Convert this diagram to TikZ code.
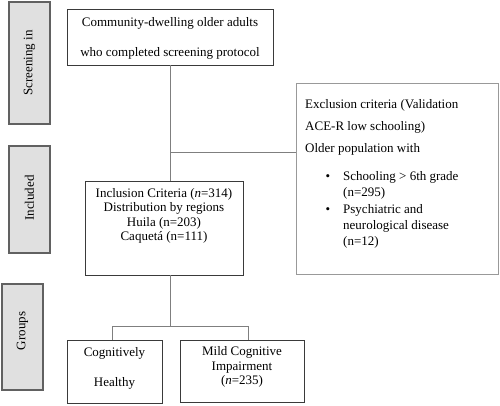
\documentclass[tikz,border=0pt]{standalone}
\usepackage{fontspec}
\setmainfont{Liberation Serif}
\usetikzlibrary{positioning}
\definecolor{linegray}{HTML}{7F7F7F}
\definecolor{boxgray}{HTML}{3A3A3A}
\definecolor{sidefill}{HTML}{E0E0E0}
\tikzset{
  txt/.style={inner sep=0pt, font=\fontsize{13}{15}\selectfont},
  flowbox/.style={draw=boxgray, line width=1pt, inner sep=0pt},
  sidebox/.style={draw=boxgray!80, fill=sidefill, line width=1.2pt, inner sep=0pt,
    minimum width=41pt},
  sidelabel/.style={txt, rotate=90},
  conn/.style={draw=linegray, line width=1pt}
}
\begin{document}
\begin{tikzpicture}[x=1pt,y=-1pt]
\useasboundingbox (0,0) rectangle (500,405);
% stage labels on the left
\node[sidebox, minimum height=122pt] (screen) at (29.5,63) {};
\node[sidelabel] (screenlbl) at (29.5,63) {Screening in};
\node[sidebox, minimum height=107pt] (included) at (29.5,199.5) {};
\node[sidelabel] (includedlbl) at (29.5,198) {Included};
\node[sidebox, minimum height=106pt] (groups) at (22.5,337) {};
\node[sidelabel] (groupslbl) at (22.5,331) {Groups};
% boxes
\node[flowbox, minimum width=206pt, minimum height=56pt] (community) at (170,37) {};
\node[txt, align=center, font=\fontsize{13}{30}\selectfont] (communitytxt) at (170,38)
  {Community-dwelling older adults\\who completed screening protocol};
\node[flowbox, draw=linegray!80, minimum width=202pt, minimum height=191pt] (exclusion) at (397,178.5) {};
\node[txt, anchor=west] (exclA) at (305,105) {Exclusion criteria (Validation};
\node[txt, anchor=west] (exclB) at (305,127) {ACE-R low schooling)};
\node[txt, anchor=west] (exclC) at (305,149) {Older population with};
\node[txt, anchor=north west, align=left, font=\fontsize{13}{16}\selectfont] (itemA) at (343,171)
  {Schooling > 6th grade\\(n=295)};
\node[txt, anchor=north west, align=left, font=\fontsize{13}{16}\selectfont] (itemB) at (343,204)
  {Psychiatric and\\neurological disease\\(n=12)};
\foreach \y/\name in {178/dotA, 211/dotB}
  \node[txt] (\name) at (328,\y) {\textbullet};
\node[flowbox, minimum width=158pt, minimum height=94pt] (inclusion) at (164,228) {};
\node[txt, align=center, font=\fontsize{13}{14.5}\selectfont] (inclusiontxt) at (164,216)
  {Inclusion Criteria (\textit{n}=314)\\Distribution by regions\\Huila (n=203)\\Caquetá (n=111)};
\node[flowbox, minimum width=95pt, minimum height=63pt] (healthy) at (114.5,371.5) {};
\node[txt, align=center, font=\fontsize{13}{30}\selectfont] (healthytxt) at (114.5,368)
  {Cognitively\\Healthy};
\node[flowbox, minimum width=124pt, minimum height=62pt] (mci) at (242,371) {};
\node[txt, align=center, font=\fontsize{13}{14.5}\selectfont] (mcitxt) at (242,367)
  {Mild Cognitive\\Impairment\\(\textit{n}=235)};
% connectors
\coordinate (top) at (170,65);
\coordinate (branch) at (170,152);
\coordinate (mid) at (170,275);
\coordinate (split) at (170,326);
\coordinate (splitL) at (112,326);
\coordinate (splitR) at (248,326);
\draw[conn] (top) -- (top |- inclusion.north);
\draw[conn] (branch) -- (branch -| exclusion.west);
\draw[conn] (mid) -- (split);
\draw[conn] (splitL |- healthy.north) -- (splitL) -- (splitR) -- (splitR |- mci.north);
\end{tikzpicture}
\end{document}
